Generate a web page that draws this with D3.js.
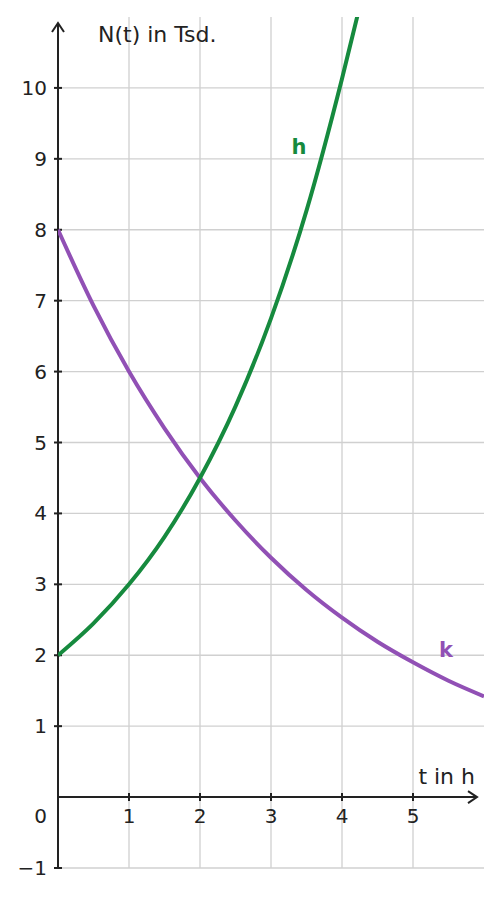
<!DOCTYPE html>
<html><head><meta charset="utf-8">
<script src="https://cdn.jsdelivr.net/npm/d3@7"></script>
<style>body{margin:0;background:#fff}text{font-family:"DejaVu Sans",sans-serif;fill:#222}</style>
</head><body>
<svg id="c" width="501" height="897"></svg>
<script>
// values
const xTicks = [1, 2, 3, 4, 5];
const yTicks = [-1, 1, 2, 3, 4, 5, 6, 7, 8, 9, 10];
const hT = [0, 0.5, 1, 1.5, 2, 2.5, 3, 3.5, 4, 4.25];
const hN = [2, 2.45, 3, 3.67, 4.5, 5.51, 6.75, 8.27, 10.13, 11.15];
const kT = [0, 0.5, 1, 1.5, 2, 2.5, 3, 3.5, 4, 4.5, 5, 5.5, 6];
const kN = [8, 6.93, 6, 5.2, 4.5, 3.9, 3.375, 2.92, 2.53, 2.19, 1.9, 1.64, 1.42];

const svg = d3.select("#c");
const x = d3.scaleLinear().domain([0, 6]).range([58, 484]);
const y = d3.scaleLinear().domain([-1, 11]).range([868, 17]);

svg.append("defs").append("clipPath").attr("id", "clip")
  .append("rect").attr("x", 58).attr("y", 17).attr("width", 426).attr("height", 851);

const grid = svg.append("g").attr("stroke", "#d0d0d0").attr("stroke-width", 1.3);
grid.selectAll(".v").data(xTicks).join("line")
  .attr("x1", d => x(d)).attr("x2", d => x(d)).attr("y1", 17).attr("y2", 868);
grid.selectAll(".h").data(yTicks).join("line")
  .attr("x1", 58).attr("x2", 484).attr("y1", d => y(d)).attr("y2", d => y(d));

// axes
const ax = svg.append("g").attr("stroke", "#222").attr("stroke-width", 2).attr("fill", "none");
ax.append("line").attr("x1", x(0)).attr("x2", 476).attr("y1", y(0)).attr("y2", y(0));
ax.append("path").attr("d", `M468,${y(0)-6}L477,${y(0)}L468,${y(0)+6}`);
ax.append("line").attr("x1", x(0)).attr("x2", x(0)).attr("y1", 868).attr("y2", 24);
ax.append("path").attr("d", `M${x(0)-6},32L${x(0)},23L${x(0)+6},32`);
ax.selectAll(".xt").data(xTicks).join("line")
  .attr("x1", d => x(d)).attr("x2", d => x(d)).attr("y1", y(0) - 4).attr("y2", y(0) + 4);
ax.selectAll(".yt").data(yTicks).join("line")
  .attr("x1", x(0) - 4).attr("x2", x(0) + 4).attr("y1", d => y(d)).attr("y2", d => y(d));

svg.selectAll(".xl").data(xTicks).join("text")
  .attr("x", d => x(d)).attr("y", y(0) + 26).attr("text-anchor", "middle")
  .attr("font-size", 20).text(d => d);
svg.selectAll(".yl").data(yTicks).join("text")
  .attr("x", 47).attr("y", d => y(d) + 7).attr("text-anchor", "end")
  .attr("font-size", 20).text(d => d < 0 ? "\u2212" + Math.abs(d) : d);
svg.append("text").attr("x", 47).attr("y", y(0) + 26).attr("text-anchor", "end")
  .attr("font-size", 20).text("0");
svg.append("text").attr("x", 98).attr("y", 42).attr("font-size", 22).text("N(t) in Tsd.");
svg.append("text").attr("x", 475).attr("y", 784).attr("text-anchor", "end").attr("font-size", 22).text("t in h");

const line = d3.line().x(d => x(d[0])).y(d => y(d[1])).curve(d3.curveMonotoneX);
const curves = svg.append("g").attr("clip-path", "url(#clip)").attr("fill", "none").attr("stroke-width", 4);
curves.append("path").attr("d", line(d3.zip(kT, kN))).attr("stroke", "#9150b5");
curves.append("path").attr("d", line(d3.zip(hT, hN))).attr("stroke", "#168a3e");

svg.append("text").attr("x", 299).attr("y", 154).attr("text-anchor", "middle")
  .attr("font-size", 21).attr("font-weight", "bold").style("fill", "#168a3e").text("h");
svg.append("text").attr("x", 446).attr("y", 657).attr("text-anchor", "middle")
  .attr("font-size", 21).attr("font-weight", "bold").style("fill", "#9150b5").text("k");
</script>
</body></html>
